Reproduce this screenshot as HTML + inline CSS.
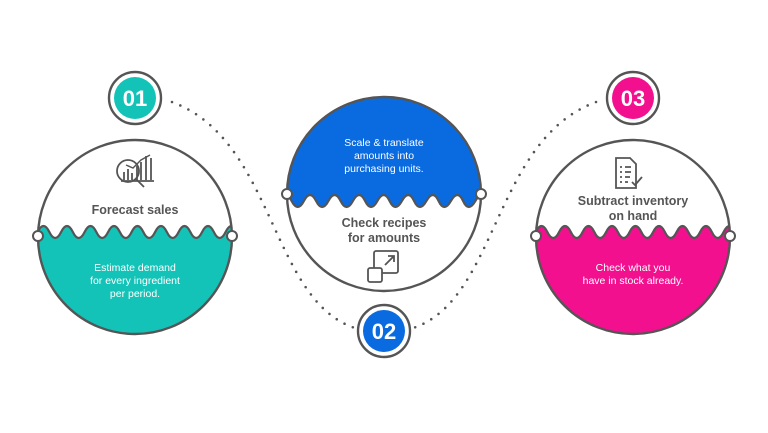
<!DOCTYPE html>
<html><head><meta charset="utf-8"><style>
html,body{margin:0;padding:0;background:#fff;}
svg{display:block;font-family:"Liberation Sans",sans-serif;}
</style></head><body>
<svg width="768" height="433" viewBox="0 0 768 433" xmlns="http://www.w3.org/2000/svg">
<defs>
<clipPath id="cL"><circle cx="135" cy="237" r="97"/></clipPath>
<clipPath id="cM"><circle cx="384" cy="194" r="97"/></clipPath>
<clipPath id="cR"><circle cx="633" cy="237" r="97"/></clipPath>
</defs>
<path d="M172,102 C275,140 270,300 355,328" fill="none" stroke="#555" stroke-width="2.6" stroke-linecap="round" stroke-dasharray="0 9"/>
<path d="M596,102 C493,140 498,300 413,328" fill="none" stroke="#555" stroke-width="2.6" stroke-linecap="round" stroke-dasharray="0 9"/>

<circle cx="135" cy="237" r="97" fill="#fff"/>
<g clip-path="url(#cL)">
<path d="M37.6,232 Q43.5,220 49.35,232 T61.1,232 T72.85,232 T84.6,232 T96.35,232 T108.1,232 T119.85,232 T131.6,232 T143.35,232 T155.1,232 T166.85,232 T178.6,232 T190.35,232 T202.1,232 T213.85,232 T225.6,232 T237.35,232 L240,345 L30,345 Z" fill="#14c3b7" stroke="#555" stroke-width="2.2"/>
</g>
<circle cx="135" cy="237" r="97" fill="none" stroke="#555" stroke-width="2.4"/>
<circle cx="38" cy="236" r="5" fill="#fff" stroke="#555" stroke-width="2"/>
<circle cx="232" cy="236" r="5" fill="#fff" stroke="#555" stroke-width="2"/>
<g fill="none" stroke="#555" stroke-width="1.8">
<circle cx="128" cy="171" r="11"/>
<line x1="136" y1="179" x2="144" y2="187"/>
<path d="M124,180 v-8 M128,180 v-11 M132,180 v-7 M137,180 v-14 M141,180 v-18 M146,180 v-24 M151,180 v-22 M121,181 h33"/>
<path d="M126,165 L133,168 L141,160 L150,155" stroke-width="1.4"/>
</g>
<text x="135" y="214" text-anchor="middle" font-size="12.5" font-weight="bold" fill="#555">Forecast sales</text>
<g font-size="10.5" fill="#fff" text-anchor="middle">
<text x="135" y="271">Estimate demand</text>
<text x="135" y="284">for every ingredient</text>
<text x="135" y="297">per period.</text>
</g>

<circle cx="384" cy="194" r="97" fill="#fff"/>
<g clip-path="url(#cM)">
<path d="M279.4,201 Q285.5,189 291.6,201 T303.9,201 T316.1,201 T328.4,201 T340.6,201 T352.9,201 T365.1,201 T377.4,201 T389.6,201 T401.9,201 T414.1,201 T426.4,201 T438.6,201 T450.9,201 T463.1,201 T475.4,201 T487.6,201 L490,90 L278,90 Z" fill="#0a6ae0" stroke="#555" stroke-width="2.2"/>
</g>
<circle cx="384" cy="194" r="97" fill="none" stroke="#555" stroke-width="2.4"/>
<circle cx="287" cy="194" r="5" fill="#fff" stroke="#555" stroke-width="2"/>
<circle cx="481" cy="194" r="5" fill="#fff" stroke="#555" stroke-width="2"/>
<g font-size="10.5" fill="#fff" text-anchor="middle">
<text x="384" y="146">Scale &amp; translate</text>
<text x="384" y="159">amounts into</text>
<text x="384" y="172">purchasing units.</text>
</g>
<g font-size="12.5" font-weight="bold" fill="#555" text-anchor="middle">
<text x="384" y="227">Check recipes</text>
<text x="384" y="242">for amounts</text>
</g>
<g fill="none" stroke="#555" stroke-width="1.8">
<rect x="374" y="251" width="24" height="22" rx="2"/>
<rect x="368" y="268" width="14" height="14" rx="2" fill="#fff"/>
<path d="M385,265 L394,256 M388,256 h6 v6"/>
</g>

<circle cx="633" cy="237" r="97" fill="#fff"/>
<g clip-path="url(#cR)">
<path transform="translate(498,0)" d="M37.6,232 Q43.5,220 49.35,232 T61.1,232 T72.85,232 T84.6,232 T96.35,232 T108.1,232 T119.85,232 T131.6,232 T143.35,232 T155.1,232 T166.85,232 T178.6,232 T190.35,232 T202.1,232 T213.85,232 T225.6,232 T237.35,232 L240,345 L30,345 Z" fill="#f2108f" stroke="#555" stroke-width="2.2"/>
</g>
<circle cx="633" cy="237" r="97" fill="none" stroke="#555" stroke-width="2.4"/>
<circle cx="536" cy="236" r="5" fill="#fff" stroke="#555" stroke-width="2"/>
<circle cx="730" cy="236" r="5" fill="#fff" stroke="#555" stroke-width="2"/>
<g fill="none" stroke="#555" stroke-width="1.8">
<path d="M616,158 h14 l6,6 v24 h-20 z"/>
<path d="M620,167 h2 M625,167 h6 M620,172 h2 M625,172 h6 M620,177 h2 M625,177 h5 M620,182 h2 M625,182 h3"/>
<path d="M632,182 l3,3 l7,-8"/>
</g>
<g font-size="12.5" font-weight="bold" fill="#555" text-anchor="middle">
<text x="633" y="205">Subtract inventory</text>
<text x="633" y="220">on hand</text>
</g>
<g font-size="10.5" fill="#fff" text-anchor="middle">
<text x="633" y="271">Check what you</text>
<text x="633" y="284">have in stock already.</text>
</g>

<circle cx="135" cy="98" r="26" fill="#fff" stroke="#555" stroke-width="2.4"/>
<circle cx="135" cy="98" r="21" fill="#14c3b7"/>
<text x="135" y="106" text-anchor="middle" font-size="22" font-weight="bold" fill="#fff">01</text>
<circle cx="384" cy="331" r="26" fill="#fff" stroke="#555" stroke-width="2.4"/>
<circle cx="384" cy="331" r="21" fill="#0a6ae0"/>
<text x="384" y="339" text-anchor="middle" font-size="22" font-weight="bold" fill="#fff">02</text>
<circle cx="633" cy="98" r="26" fill="#fff" stroke="#555" stroke-width="2.4"/>
<circle cx="633" cy="98" r="21" fill="#f2108f"/>
<text x="633" y="106" text-anchor="middle" font-size="22" font-weight="bold" fill="#fff">03</text>
</svg>
</body></html>
